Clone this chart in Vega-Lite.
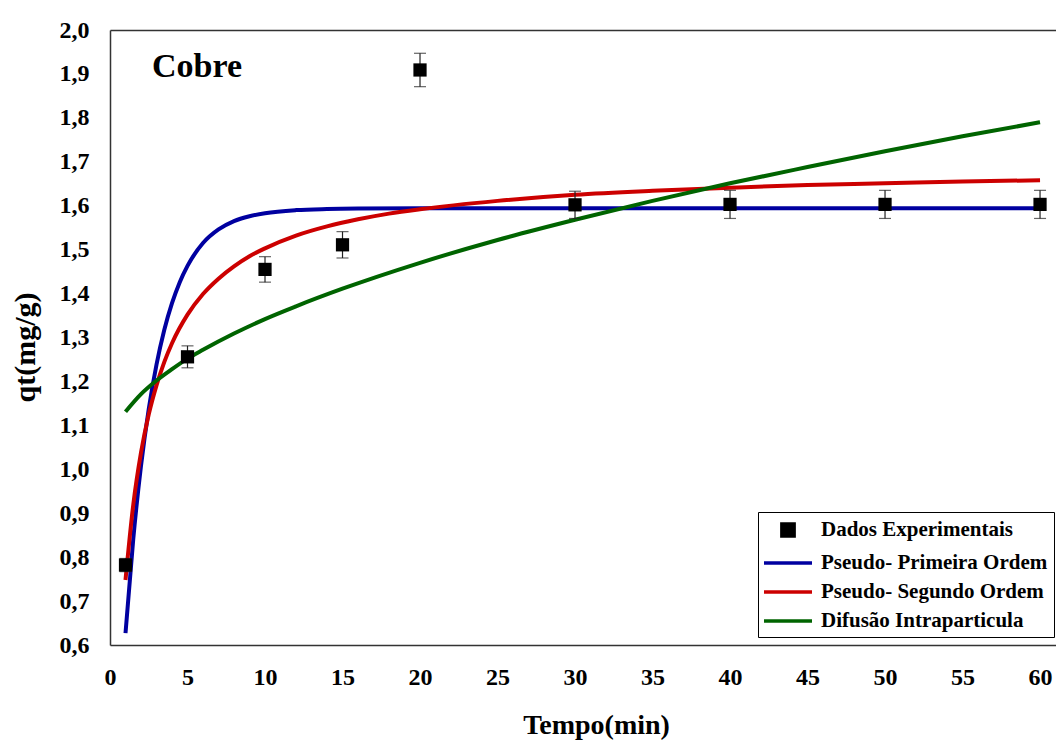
{
  "$schema": "https://vega.github.io/schema/vega-lite/v6.json",
  "width": 946,
  "height": 615,
  "autosize": {"type": "none"},
  "padding": {"left": 110, "top": 30, "right": 0, "bottom": 95},
  "background": "white",
  "config": {"view": {"stroke": null}, "font": "Liberation Serif, Times New Roman, serif",
    "legend": {"labelFont": "Liberation Serif, Times New Roman, serif", "labelFontWeight": "bold", "labelFontSize": 21, "labelColor": "#000"}},
  "datasets": {
    "rotulo": [{"label": "Cobre", "t": 2.71, "q": 1.893}],
    "exp": [
      {"serie": "Dados Experimentais", "t": 1, "q": 0.782, "lo": 0.767, "hi": 0.797},
      {"serie": "Dados Experimentais", "t": 5, "q": 1.256, "lo": 1.231, "hi": 1.281},
      {"serie": "Dados Experimentais", "t": 10, "q": 1.455, "lo": 1.426, "hi": 1.484},
      {"serie": "Dados Experimentais", "t": 15, "q": 1.511, "lo": 1.481, "hi": 1.541},
      {"serie": "Dados Experimentais", "t": 20, "q": 1.909, "lo": 1.871, "hi": 1.947},
      {"serie": "Dados Experimentais", "t": 30, "q": 1.602, "lo": 1.571, "hi": 1.633},
      {"serie": "Dados Experimentais", "t": 40, "q": 1.603, "lo": 1.571, "hi": 1.635},
      {"serie": "Dados Experimentais", "t": 50, "q": 1.603, "lo": 1.571, "hi": 1.635},
      {"serie": "Dados Experimentais", "t": 60, "q": 1.603, "lo": 1.571, "hi": 1.635}
    ],
    "modelos": [
      {"serie": "Pseudo- Primeira Ordem", "t": 1, "q": 0.627},
      {"serie": "Pseudo- Primeira Ordem", "t": 1.5, "q": 0.841},
      {"serie": "Pseudo- Primeira Ordem", "t": 2, "q": 1.008},
      {"serie": "Pseudo- Primeira Ordem", "t": 2.5, "q": 1.137},
      {"serie": "Pseudo- Primeira Ordem", "t": 3, "q": 1.238},
      {"serie": "Pseudo- Primeira Ordem", "t": 3.5, "q": 1.317},
      {"serie": "Pseudo- Primeira Ordem", "t": 4, "q": 1.378},
      {"serie": "Pseudo- Primeira Ordem", "t": 4.5, "q": 1.426},
      {"serie": "Pseudo- Primeira Ordem", "t": 5, "q": 1.463},
      {"serie": "Pseudo- Primeira Ordem", "t": 6, "q": 1.515},
      {"serie": "Pseudo- Primeira Ordem", "t": 7, "q": 1.546},
      {"serie": "Pseudo- Primeira Ordem", "t": 8, "q": 1.565},
      {"serie": "Pseudo- Primeira Ordem", "t": 9, "q": 1.576},
      {"serie": "Pseudo- Primeira Ordem", "t": 10, "q": 1.583},
      {"serie": "Pseudo- Primeira Ordem", "t": 12, "q": 1.590},
      {"serie": "Pseudo- Primeira Ordem", "t": 14, "q": 1.5925},
      {"serie": "Pseudo- Primeira Ordem", "t": 16, "q": 1.5935},
      {"serie": "Pseudo- Primeira Ordem", "t": 20, "q": 1.594},
      {"serie": "Pseudo- Primeira Ordem", "t": 30, "q": 1.594},
      {"serie": "Pseudo- Primeira Ordem", "t": 40, "q": 1.594},
      {"serie": "Pseudo- Primeira Ordem", "t": 50, "q": 1.594},
      {"serie": "Pseudo- Primeira Ordem", "t": 60, "q": 1.594},
      {"serie": "Pseudo- Segundo Ordem", "t": 1, "q": 0.748},
      {"serie": "Pseudo- Segundo Ordem", "t": 1.5, "q": 0.919},
      {"serie": "Pseudo- Segundo Ordem", "t": 2, "q": 1.038},
      {"serie": "Pseudo- Segundo Ordem", "t": 2.5, "q": 1.125},
      {"serie": "Pseudo- Segundo Ordem", "t": 3, "q": 1.191},
      {"serie": "Pseudo- Segundo Ordem", "t": 3.5, "q": 1.244},
      {"serie": "Pseudo- Segundo Ordem", "t": 4, "q": 1.287},
      {"serie": "Pseudo- Segundo Ordem", "t": 5, "q": 1.352},
      {"serie": "Pseudo- Segundo Ordem", "t": 6, "q": 1.399},
      {"serie": "Pseudo- Segundo Ordem", "t": 7, "q": 1.434},
      {"serie": "Pseudo- Segundo Ordem", "t": 8, "q": 1.462},
      {"serie": "Pseudo- Segundo Ordem", "t": 9, "q": 1.485},
      {"serie": "Pseudo- Segundo Ordem", "t": 10, "q": 1.503},
      {"serie": "Pseudo- Segundo Ordem", "t": 12, "q": 1.532},
      {"serie": "Pseudo- Segundo Ordem", "t": 14, "q": 1.553},
      {"serie": "Pseudo- Segundo Ordem", "t": 16, "q": 1.569},
      {"serie": "Pseudo- Segundo Ordem", "t": 18, "q": 1.582},
      {"serie": "Pseudo- Segundo Ordem", "t": 20, "q": 1.592},
      {"serie": "Pseudo- Segundo Ordem", "t": 25, "q": 1.611},
      {"serie": "Pseudo- Segundo Ordem", "t": 30, "q": 1.625},
      {"serie": "Pseudo- Segundo Ordem", "t": 35, "q": 1.634},
      {"serie": "Pseudo- Segundo Ordem", "t": 40, "q": 1.641},
      {"serie": "Pseudo- Segundo Ordem", "t": 45, "q": 1.647},
      {"serie": "Pseudo- Segundo Ordem", "t": 50, "q": 1.651},
      {"serie": "Pseudo- Segundo Ordem", "t": 55, "q": 1.655},
      {"serie": "Pseudo- Segundo Ordem", "t": 60, "q": 1.658},
      {"serie": "Difusão Intraparticula", "t": 1, "q": 1.131},
      {"serie": "Difusão Intraparticula", "t": 2, "q": 1.171},
      {"serie": "Difusão Intraparticula", "t": 3, "q": 1.202},
      {"serie": "Difusão Intraparticula", "t": 4, "q": 1.228},
      {"serie": "Difusão Intraparticula", "t": 5, "q": 1.252},
      {"serie": "Difusão Intraparticula", "t": 6, "q": 1.272},
      {"serie": "Difusão Intraparticula", "t": 8, "q": 1.309},
      {"serie": "Difusão Intraparticula", "t": 10, "q": 1.342},
      {"serie": "Difusão Intraparticula", "t": 12, "q": 1.371},
      {"serie": "Difusão Intraparticula", "t": 15, "q": 1.411},
      {"serie": "Difusão Intraparticula", "t": 20, "q": 1.470},
      {"serie": "Difusão Intraparticula", "t": 25, "q": 1.522},
      {"serie": "Difusão Intraparticula", "t": 30, "q": 1.568},
      {"serie": "Difusão Intraparticula", "t": 35, "q": 1.611},
      {"serie": "Difusão Intraparticula", "t": 40, "q": 1.651},
      {"serie": "Difusão Intraparticula", "t": 45, "q": 1.688},
      {"serie": "Difusão Intraparticula", "t": 50, "q": 1.724},
      {"serie": "Difusão Intraparticula", "t": 55, "q": 1.758},
      {"serie": "Difusão Intraparticula", "t": 60, "q": 1.790}
    ]
  },
  "resolve": {"axis": {"x": "independent"}},
  "layer": [
    {
      "data": {"name": "modelos"},
      "mark": {"type": "line", "strokeWidth": 4, "interpolate": "monotone"},
      "encoding": {
        "x": {"field": "t", "type": "quantitative", "scale": {"domain": [0, 61.03], "nice": false, "zero": false},
          "axis": {"orient": "bottom", "values": [0,5,10,15,20,25,30,35,40,45,50,55,60], "grid": false, "ticks": false,
            "domain": true, "domainColor": "#333", "domainWidth": 1.5,
            "labelFont": "Liberation Serif, Times New Roman, serif", "labelFontWeight": "bold", "labelFontSize": 24, "labelColor": "#000", "labelPadding": 20, "labelFlush": false,
            "title": "Tempo(min)", "titleFont": "Liberation Serif, Times New Roman, serif", "titleFontWeight": "bold", "titleFontSize": 28, "titleColor": "#000",
            "titleX": 486, "titleY": 88, "titleBaseline": "alphabetic", "titleAlign": "center", "titleAnchor": null}},
        "y": {"field": "q", "type": "quantitative", "scale": {"domain": [0.6, 2.0], "nice": false, "zero": false},
          "axis": {"values": [0.6,0.7,0.8,0.9,1.0,1.1,1.2,1.3,1.4,1.5,1.6,1.7,1.8,1.9,2.0], "grid": false, "ticks": false,
            "domain": true, "domainColor": "#333", "domainWidth": 1.5,
            "labelExpr": "replace(format(datum.value, '.1f'), '.', ',')",
            "labelFont": "Liberation Serif, Times New Roman, serif", "labelFontWeight": "bold", "labelFontSize": 24, "labelColor": "#000", "labelPadding": 21, "labelFlush": false,
            "title": "qt(mg/g)", "titleFont": "Liberation Serif, Times New Roman, serif", "titleFontWeight": "bold", "titleFontSize": 30, "titleColor": "#000",
            "titleX": -85, "titleY": 317, "titleAngle": -90, "titleBaseline": "middle", "titleAlign": "center", "titleAnchor": null}},
        "color": {"field": "serie", "type": "nominal",
          "scale": {"domain": ["Dados Experimentais", "Pseudo- Primeira Ordem", "Pseudo- Segundo Ordem", "Difusão Intraparticula"],
                    "range": ["#000000", "#0000A0", "#CC0000", "#006400"]},
          "legend": {"title": null, "orient": "none", "legendX": 648, "legendY": 482, "padding": 6,
            "strokeColor": "#000", "fillColor": "#fff",
            "labelFont": "Liberation Serif, Times New Roman, serif", "labelFontWeight": "bold", "labelFontSize": 21, "labelColor": "#000", "labelLimit": 400,
            "symbolSize": 400, "rowPadding": 7, "labelOffset": 21, "symbolOffset": 12,
            "encode": {
              "labels": {"update": {"font": {"value": "Liberation Serif, Times New Roman, serif"}, "fontWeight": {"value": "bold"}, "fontSize": {"value": 21}}},
              "symbols": {"update": {
              "shape": {"signal": "datum.value === 'Dados Experimentais' ? 'square' : 'M-2.4,0H2.4'"},
              "size": {"signal": "datum.value === 'Dados Experimentais' ? 150 : 400"},
              "fill": {"signal": "datum.value === 'Dados Experimentais' ? '#000000' : 'transparent'"},
              "stroke": {"signal": "datum.value === 'Dados Experimentais' ? 'transparent' : scale('color', datum.value)"},
              "strokeWidth": {"value": 3.5},
              "opacity": {"value": 1}
            }}}}
        },
        "order": {"field": "t", "type": "quantitative"}
      }
    },
    {
      "data": {"name": "exp"},
      "mark": {"type": "rule", "color": "#222", "strokeWidth": 1.2},
      "encoding": {
        "x": {"field": "t", "type": "quantitative",
          "axis": {"orient": "top", "labels": false, "ticks": false, "grid": false, "title": null, "domain": true, "domainColor": "#333", "domainWidth": 1.5}},
        "y": {"field": "lo", "type": "quantitative"},
        "y2": {"field": "hi"}
      }
    },
    {
      "data": {"name": "exp"},
      "mark": {"type": "tick", "orient": "horizontal", "color": "#222", "size": 12, "thickness": 1.2},
      "encoding": {
        "x": {"field": "t", "type": "quantitative", "axis": null},
        "y": {"field": "lo", "type": "quantitative"}
      }
    },
    {
      "data": {"name": "exp"},
      "mark": {"type": "tick", "orient": "horizontal", "color": "#222", "size": 12, "thickness": 1.2},
      "encoding": {
        "x": {"field": "t", "type": "quantitative", "axis": null},
        "y": {"field": "hi", "type": "quantitative"}
      }
    },
    {
      "data": {"name": "exp"},
      "mark": {"type": "square", "filled": true, "size": 175, "opacity": 1},
      "encoding": {
        "x": {"field": "t", "type": "quantitative", "axis": null},
        "y": {"field": "q", "type": "quantitative"},
        "color": {"field": "serie", "type": "nominal"}
      }
    },
    {
      "data": {"name": "rotulo"},
      "mark": {"type": "text", "align": "left", "baseline": "alphabetic", "font": "Liberation Serif, Times New Roman, serif", "fontSize": 34, "fontWeight": "bold", "color": "#000"},
      "encoding": {
        "x": {"field": "t", "type": "quantitative", "axis": null},
        "y": {"field": "q", "type": "quantitative"},
        "text": {"field": "label"}
      }
    }
  ]
}
